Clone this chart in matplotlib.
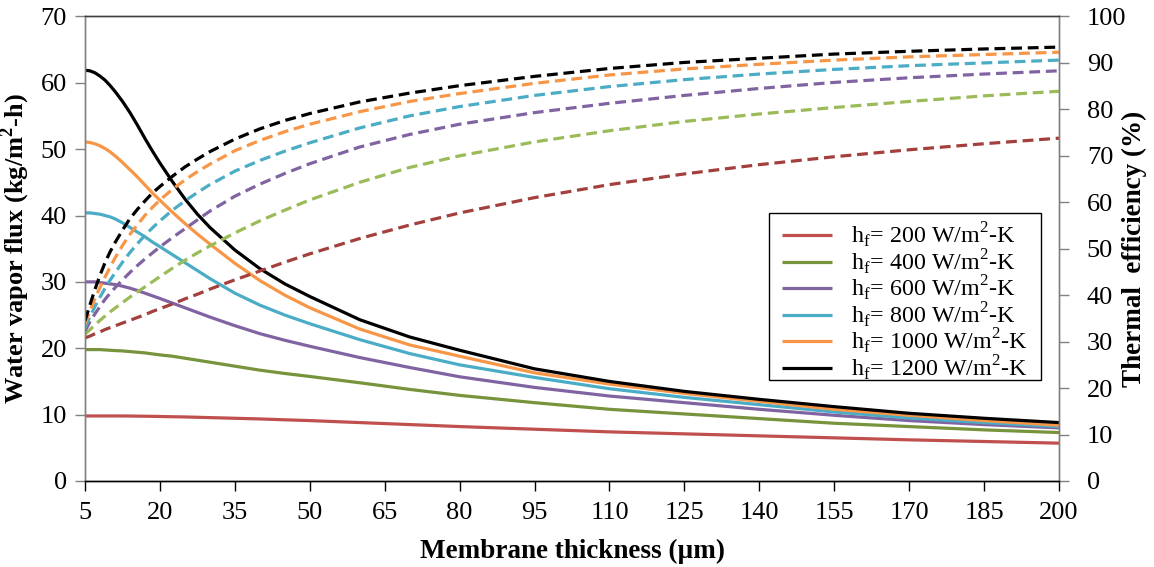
import matplotlib
matplotlib.use("Agg")
import matplotlib.pyplot as plt
from matplotlib.patches import Rectangle

plt.rcParams['font.family'] = ['Liberation Serif', 'DejaVu Serif']
plt.rcParams['mathtext.fontset'] = 'custom'
plt.rcParams['mathtext.rm'] = 'Liberation Serif'

# Membrane thickness (um)
thickness = [5, 6, 7, 8, 9, 10, 11, 12.5, 14, 15.5, 17, 18.5, 20, 22.5, 25, 27.5, 30,
             35, 40, 45, 50, 60, 70, 80, 95, 110, 125, 140, 155, 170, 185, 200]

h_f = [200, 400, 600, 800, 1000, 1200]

# Water vapor flux (kg/m2-h)
flux_200 = [9.8, 9.8, 9.8, 9.8, 9.8, 9.8, 9.8, 9.8, 9.79, 9.77, 9.76, 9.74, 9.72, 9.68,
            9.65, 9.6, 9.55, 9.45, 9.35, 9.22, 9.1, 8.8, 8.5, 8.2, 7.8, 7.4, 7.1, 6.8,
            6.5, 6.2, 5.95, 5.7]
flux_400 = [19.8, 19.8, 19.8, 19.8, 19.75, 19.7, 19.65, 19.6, 19.5, 19.4, 19.3, 19.15,
            19.0, 18.8, 18.5, 18.2, 17.9, 17.3, 16.7, 16.2, 15.75, 14.8, 13.8, 12.9,
            11.8, 10.8, 10.1, 9.4, 8.7, 8.2, 7.7, 7.3]
flux_600 = [30.0, 30.0, 30.0, 29.9, 29.8, 29.7, 29.6, 29.35, 29.05, 28.7, 28.3, 27.9,
            27.5, 26.8, 26.1, 25.4, 24.7, 23.4, 22.2, 21.2, 20.3, 18.6, 17.1, 15.7, 14.1,
            12.8, 11.8, 10.8, 9.9, 9.1, 8.5, 8.0]
flux_800 = [40.4, 40.4, 40.3, 40.2, 40.0, 39.8, 39.5, 38.9, 38.2, 37.5, 36.8, 36.0, 35.3,
            34.1, 32.9, 31.7, 30.5, 28.3, 26.5, 25.0, 23.7, 21.3, 19.2, 17.5, 15.6, 13.9,
            12.6, 11.5, 10.4, 9.5, 8.8, 8.2]
flux_1000 = [51.1, 51.0, 50.8, 50.5, 50.1, 49.6, 49.0, 48.0, 46.9, 45.8, 44.6, 43.4, 42.3,
             40.5, 38.8, 37.2, 35.7, 32.8, 30.2, 28.0, 26.1, 22.9, 20.5, 18.8, 16.3, 14.6,
             13.2, 12.0, 10.8, 9.9, 9.1, 8.4]
flux_1200 = [61.9, 61.8, 61.5, 61.0, 60.4, 59.6, 58.7, 57.2, 55.5, 53.6, 51.6, 49.7, 47.9,
             45.1, 42.5, 40.2, 38.2, 34.8, 32.0, 29.7, 27.8, 24.3, 21.7, 19.7, 16.9, 15.0,
             13.5, 12.3, 11.2, 10.2, 9.45, 8.8]

# Thermal efficiency (%)
eff_200 = [30.8, 31.2, 31.7, 32.1, 32.6, 33.0, 33.4, 34.0, 34.6, 35.2, 35.8, 36.5, 37.1,
           38.1, 39.2, 40.2, 41.3, 43.3, 45.2, 47.1, 48.9, 52.2, 55.1, 57.7, 61.0, 63.8,
           66.1, 68.1, 69.8, 71.3, 72.6, 73.8]
eff_400 = [31.6, 32.6, 33.6, 34.6, 35.5, 36.4, 37.2, 38.4, 39.6, 40.7, 41.8, 42.9, 44.0,
           45.8, 47.5, 49.1, 50.6, 53.4, 56.0, 58.3, 60.5, 64.3, 67.5, 70.0, 73.0, 75.4,
           77.4, 79.0, 80.4, 81.7, 82.9, 83.9]
eff_600 = [32.3, 34.3, 36.0, 37.6, 39.1, 40.4, 41.6, 43.3, 44.9, 46.4, 47.8, 49.1, 50.4,
           52.4, 54.3, 56.2, 58.1, 61.3, 63.9, 66.2, 68.3, 71.9, 74.6, 76.8, 79.3, 81.3,
           83.0, 84.5, 85.8, 86.8, 87.6, 88.3]
eff_800 = [33.0, 35.4, 37.6, 39.6, 41.5, 43.2, 44.8, 47.1, 49.2, 51.1, 52.9, 54.5, 56.0,
           58.3, 60.3, 62.1, 63.8, 66.7, 69.0, 71.0, 72.8, 76.0, 78.6, 80.6, 83.0, 84.9,
           86.4, 87.6, 88.6, 89.4, 90.0, 90.6]
eff_1000 = [33.8, 36.7, 39.3, 41.7, 43.9, 46.0, 48.0, 50.7, 53.1, 55.2, 57.2, 58.9, 60.5,
            62.8, 64.8, 66.6, 68.2, 71.1, 73.3, 75.2, 76.8, 79.5, 81.7, 83.4, 85.6, 87.4,
            88.7, 89.7, 90.6, 91.3, 91.8, 92.3]
eff_1200 = [34.5, 38.0, 41.3, 44.3, 47.0, 49.3, 51.3, 54.0, 56.5, 58.5, 60.3, 62.0, 63.4,
            65.6, 67.6, 69.3, 70.9, 73.6, 75.8, 77.6, 79.1, 81.6, 83.5, 85.1, 87.1, 88.8,
            90.1, 91.0, 91.9, 92.5, 93.0, 93.4]

flux = [flux_200, flux_400, flux_600, flux_800, flux_1000, flux_1200]
eff = [eff_200, eff_400, eff_600, eff_800, eff_1000, eff_1200]

solid_colors = ['#C0504D', '#77933C', '#8064A2', '#4BACC6', '#F79646', '#000000']
dash_colors = ['#A33F3C', '#9BBB59', '#8064A2', '#4BACC6', '#F79646', '#000000']

x_ticks = list(range(5, 201, 15))

fig = plt.figure(figsize=(11.54, 5.67), dpi=100)
ax = fig.add_axes([0.0737, 0.1517, 0.8440, 0.8193])
ax2 = ax.twinx()

handles = []
for h, f, c in zip(h_f, flux, solid_colors):
    ln, = ax.plot(thickness, f, color=c, lw=2.3, solid_capstyle='butt',
                  solid_joinstyle='round',
                  label=r'h$_\mathregular{f}$= %d W/m$^\mathregular{2}$-K' % h)
    handles.append(ln)
for e, c in zip(eff, dash_colors):
    ax2.plot(thickness, e, color=c, lw=2.3, dashes=(3.4, 1.8), dash_capstyle='butt')

ax.set_xlim(5, 200)
ax.set_ylim(0, 70)
ax2.set_ylim(0, 100)
ax.set_xticks(x_ticks)
ax.set_yticks(range(0, 71, 10))
ax2.set_yticks(range(0, 101, 10))

for a in (ax, ax2):
    a.tick_params(axis='both', direction='out', length=7, width=1.0,
                  labelsize=19, colors='#808080', labelcolor='black')
    a.spines['left'].set_color('#808080')
    a.spines['right'].set_color('#808080')
    a.spines['top'].set_color('#404040')
    a.spines['bottom'].set_color('#000000')
    for s in a.spines.values():
        s.set_linewidth(1.0)
ax.tick_params(axis='x', colors='#000000', pad=8)
ax.tick_params(axis='y', pad=6)
ax2.tick_params(axis='y', pad=13)

ax.set_xlabel('Membrane thickness (µm)', fontsize=19.5, fontweight='bold', labelpad=11)
ax.set_ylabel('Water vapor flux (kg/m$^\\mathregular{2}$-h)', fontsize=19,
              fontweight='bold', labelpad=6)
ax2.set_ylabel('Thermal  efficiency (%)', fontsize=19.5, fontweight='bold',
               rotation=90, labelpad=-3)

# Legend box drawn as a separate frame, entries placed inside it
ax2.add_patch(Rectangle((0.702, 0.2174), 0.2795, 0.3596, transform=ax2.transAxes,
                        facecolor='white', edgecolor='black', lw=1.0, zorder=4))
leg = ax2.legend(handles=handles, loc='upper left', bbox_to_anchor=(0.7156, 0.5607),
                 fontsize=17.3, frameon=False, handlelength=2.1, handletextpad=0.75,
                 labelspacing=-0.12, borderpad=0, borderaxespad=0)
leg.set_zorder(5)

fig.savefig('out.png', dpi=100)
